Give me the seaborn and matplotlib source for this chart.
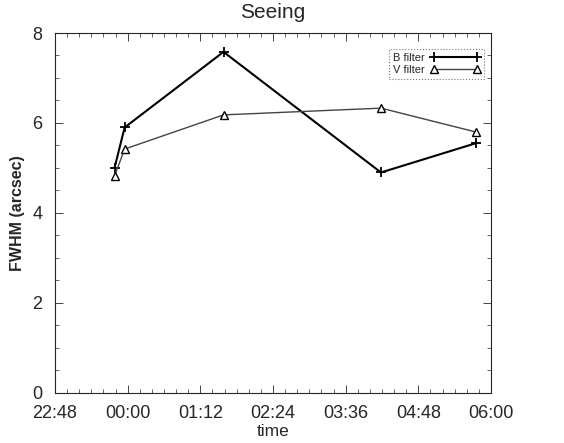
import matplotlib
matplotlib.use("Agg")
import matplotlib.pyplot as plt
import matplotlib.ticker as mticker
import seaborn as sns
import pandas as pd

times_b = ["23:47", "23:57", "01:35", "04:11", "05:45"]
fwhm_b = [5.0, 5.9, 7.58, 4.9, 5.55]
times_v = ["23:47", "23:57", "01:35", "04:11", "05:45"]
fwhm_v = [4.82, 5.42, 6.18, 6.33, 5.8]
xtick_labels = ["22:48", "00:00", "01:12", "02:24", "03:36", "04:48", "06:00"]


def to_hours(s):
    h, m = map(int, s.split(":"))
    v = h + m / 60.0
    if v > 12:
        v -= 24
    return v


df = pd.DataFrame({
    "time": [to_hours(t) for t in times_b] + [to_hours(t) for t in times_v],
    "fwhm": fwhm_b + fwhm_v,
    "filter": ["B filter"] * len(times_b) + ["V filter"] * len(times_v),
})

sns.set_style("ticks")
plt.rcParams["font.family"] = ["Liberation Sans", "DejaVu Sans"]

fig = plt.figure(figsize=(5.64, 4.43), dpi=100)
ax = fig.add_axes([0.0975, 0.113, 0.773, 0.8125])

sns.lineplot(data=df[df["filter"] == "B filter"], x="time", y="fwhm", ax=ax,
             color="black", lw=1.5, marker="+", markersize=6.5, mew=1.3,
             mec="black", label="B filter")
sns.lineplot(data=df[df["filter"] == "V filter"], x="time", y="fwhm", ax=ax,
             color="#444444", lw=1.0, marker="^", markersize=5.5, mew=1.0,
             mfc="white", mec="black", label="V filter")

tick_pos = [to_hours(t) for t in xtick_labels]
tick_pos[-1] = 6.0
ax.set_xlim(tick_pos[0], tick_pos[-1])
ax.set_ylim(0, 8)
ax.set_xticks(tick_pos)
ax.set_xticklabels(xtick_labels)
ax.xaxis.set_minor_locator(mticker.MultipleLocator(0.2))
ax.set_yticks([0, 2, 4, 6, 8])
ax.yaxis.set_minor_locator(mticker.MultipleLocator(0.5))
ax.tick_params(which="both", direction="in", top=True, right=True, labelsize=13)
ax.tick_params(which="major", length=6, width=0.6)
ax.tick_params(which="minor", length=3, width=0.5)
ax.tick_params(axis="x", pad=9)
ax.tick_params(axis="y", pad=9)
for sp in ax.spines.values():
    sp.set_linewidth(0.8)
    sp.set_linestyle((0, (1, 1)))

ax.set_title("Seeing", fontsize=15, pad=11)
ax.set_xlabel("time", fontsize=12.5, labelpad=1)
ax.set_ylabel("FWHM (arcsec)", fontsize=11.5, fontweight="bold", labelpad=5)

leg = ax.legend(loc="upper right", bbox_to_anchor=(0.985, 0.955), fontsize=8,
                numpoints=2, handlelength=4.5, frameon=True, fancybox=False,
                borderpad=0.35, labelspacing=0.15, handletextpad=0.5,
                markerfirst=False, borderaxespad=0)
leg.get_frame().set_edgecolor("#555555")
leg.get_frame().set_linestyle(":")
leg.get_frame().set_linewidth(0.8)

fig.savefig("out.png", dpi=100)
